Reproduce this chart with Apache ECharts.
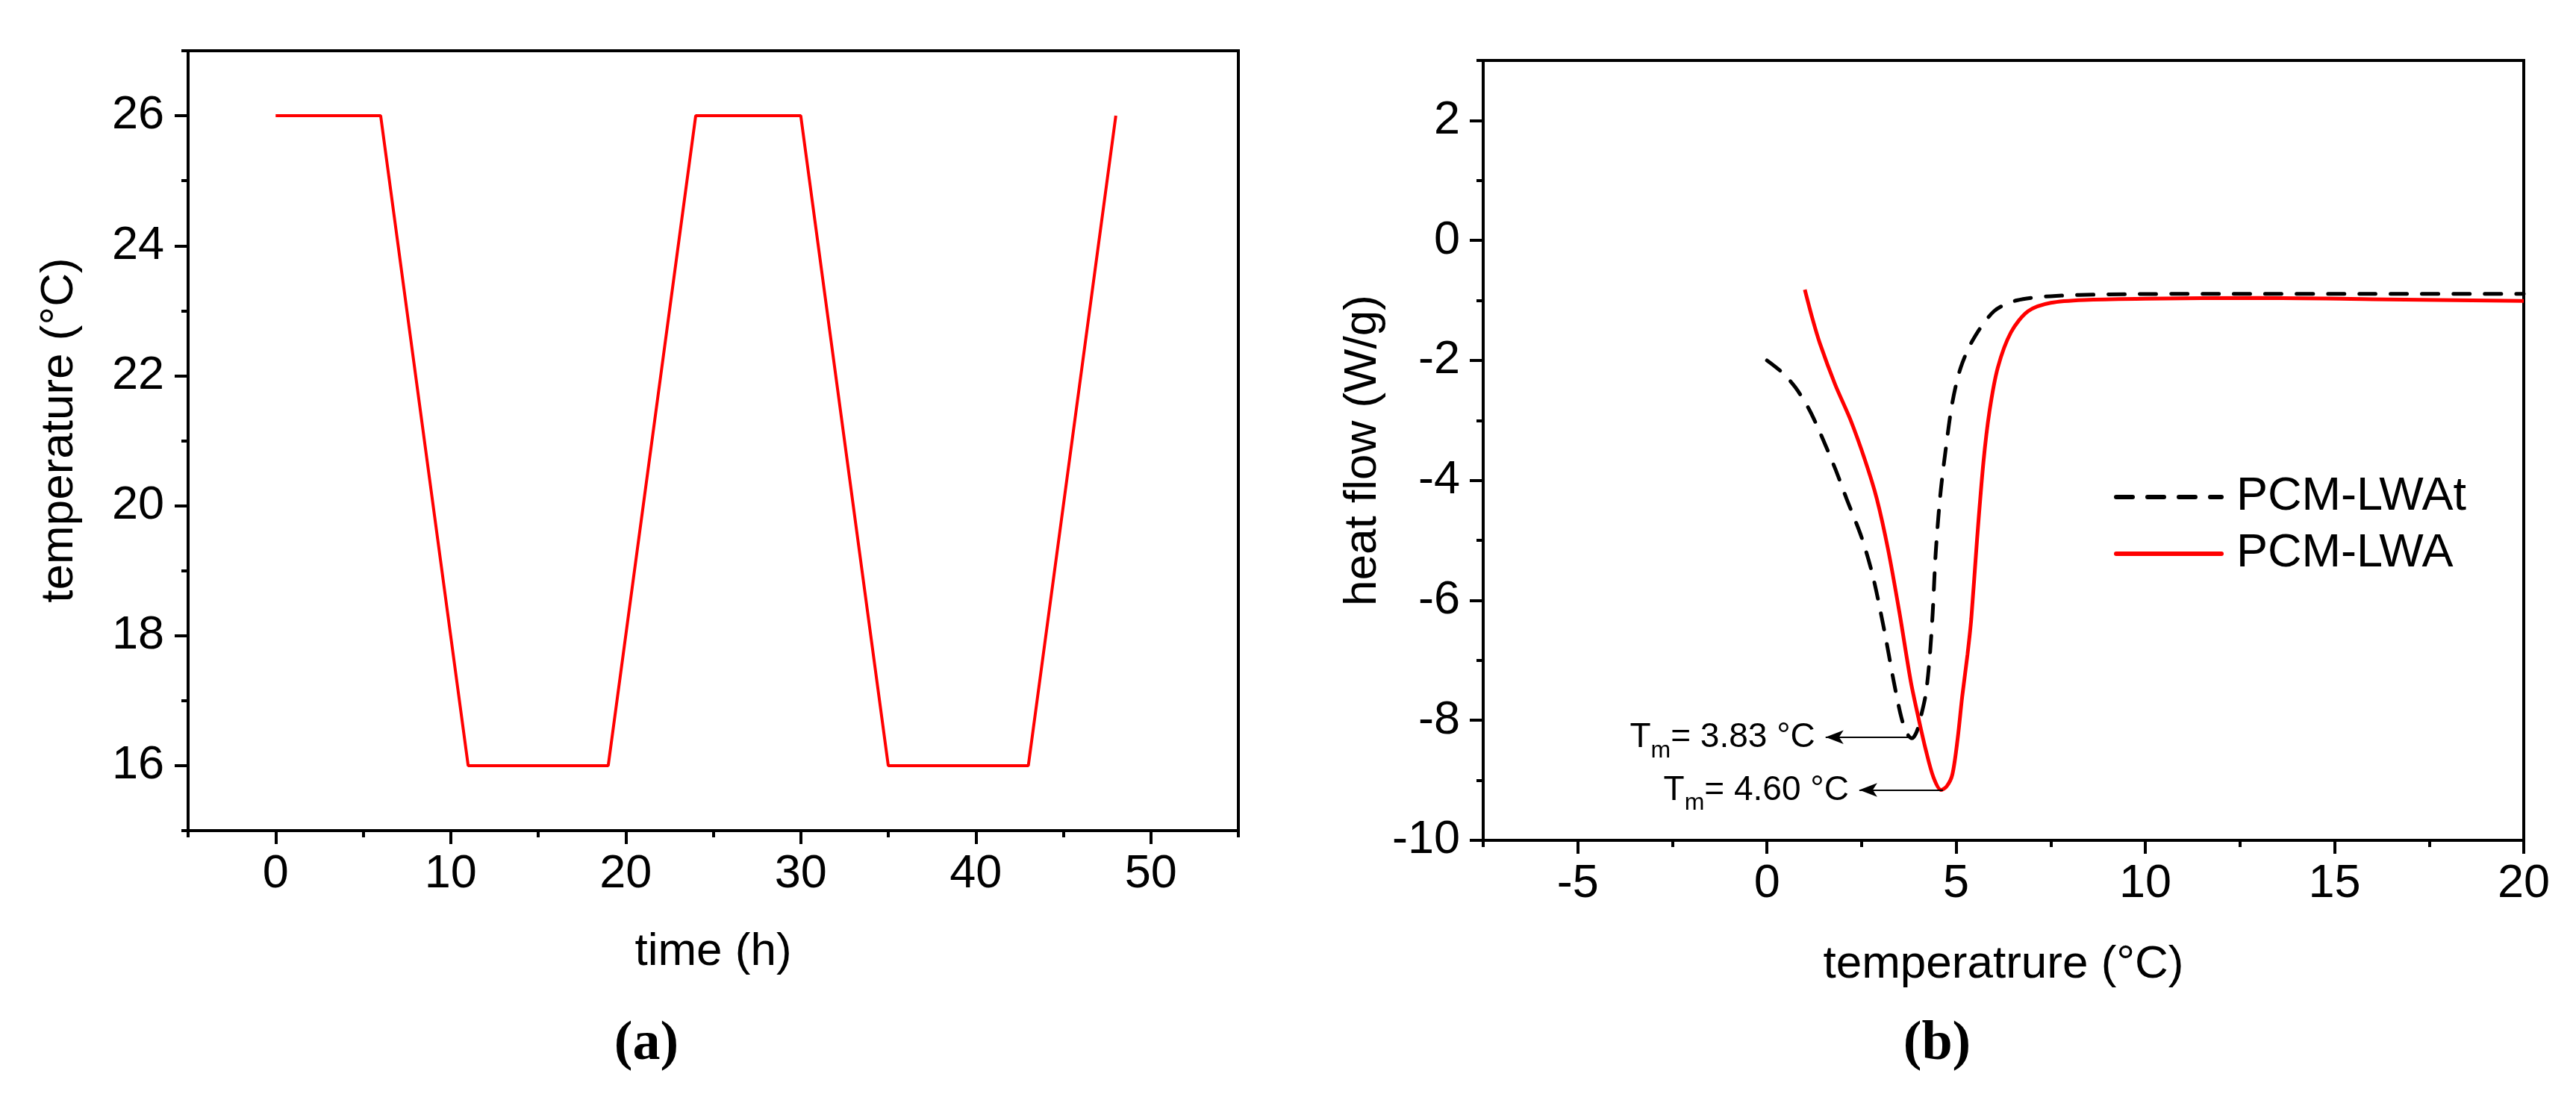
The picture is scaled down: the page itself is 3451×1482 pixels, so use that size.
<!DOCTYPE html>
<html>
<head>
<meta charset="utf-8">
<script src="https://cdn.jsdelivr.net/npm/echarts@6/dist/echarts.min.js"></script>
<style>html,body{margin:0;padding:0;background:#fff}#c{width:3451px;height:1482px}</style>
</head>
<body>
<div id="c"></div>
<script>
// ---- Panel (a): temperature programme ----
const timeH = [0, 6, 11, 19, 24, 30, 35, 43, 48];
const tempC = [26, 26, 16, 16, 26, 26, 16, 16, 26];

// ---- Panel (b): DSC heat flow ----
const lwatT = [0, 0.4, 0.75, 1.1, 1.4, 1.8, 2.1, 2.5, 2.8, 3.1, 3.35, 3.55, 3.7, 3.83, 3.95, 4.07, 4.2, 4.3, 4.38, 4.46, 4.58, 4.72, 4.9, 5.12, 5.45, 6.0, 6.6, 7.5, 9, 12, 16, 20];
const lwatQ = [-2.0, -2.2, -2.45, -2.8, -3.2, -3.8, -4.3, -4.95, -5.6, -6.5, -7.35, -7.95, -8.22, -8.3, -8.2, -7.93, -7.55, -6.95, -6.2, -5.2, -4.25, -3.5, -2.7, -2.12, -1.65, -1.18, -1.0, -0.93, -0.9, -0.89, -0.89, -0.89];
const lwaT = [1.0, 1.2, 1.4, 1.8, 2.2, 2.6, 2.9, 3.2, 3.5, 3.8, 4.0, 4.2, 4.4, 4.6, 4.75, 4.9, 5.04, 5.16, 5.3, 5.4, 5.55, 5.72, 5.88, 6.1, 6.45, 6.9, 7.5, 8.5, 10, 13, 16, 20];
const lwaQ = [-0.82, -1.3, -1.72, -2.4, -2.98, -3.68, -4.3, -5.15, -6.2, -7.35, -7.95, -8.5, -8.95, -9.16, -9.1, -8.9, -8.3, -7.6, -6.9, -6.3, -5.0, -3.7, -2.85, -2.12, -1.53, -1.18, -1.04, -0.99, -0.97, -0.96, -0.98, -1.01];

// annotations (melting peaks)
const annValue = ['3.83', '4.60'];
const annY = [-8.28, -9.16];
const annTail = [3.80, 4.65];
const annTip = [1.55, 2.44];

// ticks
const aXMajor = [0, 10, 20, 30, 40, 50];
const aXMinor = [-5, 5, 15, 25, 35, 45, 55];
const aYMajor = [16, 18, 20, 22, 24, 26];
const aYMinor = [15, 17, 19, 21, 23, 25, 27];
const bXMajor = [-5, 0, 5, 10, 15, 20];
const bXMinor = [-7.5, -2.5, 2.5, 7.5, 12.5, 17.5];
const bYMajor = [-10, -8, -6, -4, -2, 0, 2];
const bYMinor = [-9, -7, -5, -3, -1, 1, 3];

const FF = '"Liberation Sans", Arial, sans-serif';
const BLACK = '#000';
const RED = '#ff0000';

function zip(a, b) { return a.map((v, i) => [v, b[i]]); }

function majorAxis(o) {
  return Object.assign({
    type: 'value',
    axisLine: { show: true, onZero: false, lineStyle: { color: BLACK, width: 4 } },
    axisTick: { show: true, inside: false, length: 18, customValues: o.major, lineStyle: { color: BLACK, width: 4 } },
    axisLabel: { show: true, customValues: o.major, color: BLACK, fontSize: 63, fontFamily: FF, margin: o.margin },
    splitLine: { show: false },
    nameLocation: 'middle',
    nameTextStyle: Object.assign({ color: BLACK, fontSize: 62, fontFamily: FF }, o.nameExtra || {})
  }, o.extra);
}
function minorAxis(o) {
  return Object.assign({
    type: 'value',
    axisLine: { show: false, onZero: false },
    axisTick: { show: true, inside: false, length: 9, customValues: o.minor, lineStyle: { color: BLACK, width: 4 } },
    axisLabel: { show: false },
    splitLine: { show: false }
  }, o.extra);
}

const chart = echarts.init(document.getElementById('c'), null, { renderer: 'canvas' });

const option = {
  backgroundColor: '#fff',
  animation: false,
  grid: [
    { left: 252, top: 68, width: 1407, height: 1045, show: true, borderColor: BLACK, borderWidth: 4, backgroundColor: 'transparent', outerBoundsMode: 'none', containLabel: false },
    { left: 1987, top: 81, width: 1394, height: 1045, show: true, borderColor: BLACK, borderWidth: 4, backgroundColor: 'transparent', outerBoundsMode: 'none', containLabel: false }
  ],
  xAxis: [
    majorAxis({ major: aXMajor, margin: 27, extra: { gridIndex: 0, position: 'bottom', min: -5, max: 55, name: 'time (h)', nameGap: 132 } }),
    minorAxis({ minor: aXMinor, extra: { gridIndex: 0, position: 'bottom', min: -5, max: 55 } }),
    majorAxis({ major: bXMajor, margin: 27, extra: { gridIndex: 1, position: 'bottom', min: -7.5, max: 20, name: 'temperatrure (°C)', nameGap: 136 } }),
    minorAxis({ minor: bXMinor, extra: { gridIndex: 1, position: 'bottom', min: -7.5, max: 20 } })
  ],
  yAxis: [
    majorAxis({ major: aYMajor, margin: 32, nameExtra: { padding: [0, 0, 0, 28] }, extra: { gridIndex: 0, position: 'left', min: 15, max: 27, name: 'temperature (°C)', nameGap: 141 } }),
    minorAxis({ minor: aYMinor, extra: { gridIndex: 0, position: 'left', min: 15, max: 27 } }),
    majorAxis({ major: bYMajor, margin: 31, extra: { gridIndex: 1, position: 'left', min: -10, max: 3, name: 'heat flow (W/g)', nameGap: 130 } }),
    minorAxis({ minor: bYMinor, extra: { gridIndex: 1, position: 'left', min: -10, max: 3 } })
  ],
  legend: {
    show: true,
    orient: 'vertical',
    left: 2832,
    top: 631,
    padding: 0,
    itemWidth: 141,
    itemHeight: 20,
    itemGap: 6,
    selectedMode: false,
    data: ['PCM-LWAt', 'PCM-LWA'],
    itemStyle: { opacity: 0, borderWidth: 0 },
    lineStyle: { width: 6, cap: 'round' },
    textStyle: { color: BLACK, fontSize: 63, fontFamily: FF, lineHeight: 70, padding: [0, 0, 0, 15] }
  },
  series: [
    {
      name: 'programme', type: 'line', xAxisIndex: 0, yAxisIndex: 0,
      data: zip(timeH, tempC), symbol: 'none', silent: true,
      lineStyle: { color: RED, width: 4 }, itemStyle: { color: RED }
    },
    {
      name: 'PCM-LWAt', type: 'line', xAxisIndex: 2, yAxisIndex: 2,
      data: zip(lwatT, lwatQ), symbol: 'none', silent: true, smooth: 0.3,
      lineStyle: { color: BLACK, width: 5, type: [22, 20], cap: 'round' }, itemStyle: { color: BLACK },
      z: 3
    },
    {
      name: 'PCM-LWA', type: 'line', xAxisIndex: 2, yAxisIndex: 2,
      data: zip(lwaT, lwaQ), symbol: 'none', silent: true, smooth: 0.3,
      lineStyle: { color: RED, width: 5 }, itemStyle: { color: RED },
      z: 4,
      markLine: {
        silent: true, symbol: ['none', 'arrow'], symbolSize: [14, 24],
        lineStyle: { color: BLACK, width: 2, type: 'solid' },
        label: { show: false },
        data: annValue.map((v, i) => [
          { coord: [annTail[i], annY[i]] },
          { coord: [annTip[i], annY[i]] }
        ])
      }
    }
  ],
  graphic: []
};

chart.setOption(option);

// annotation texts, positioned through the axis scales
const cv = document.createElement('canvas').getContext('2d');
function tw(txt, size) { cv.font = size + 'px ' + FF; return cv.measureText(txt).width; }
const g = [];
annValue.forEach((v, i) => {
  const p = chart.convertToPixel({ xAxisIndex: 2, yAxisIndex: 2 }, [annTip[i], annY[i]]);
  const right = p[0] - 14;
  const mid = p[1] + 1;
  const main = '= ' + v + ' °C';
  const wMain = tw(main, 46);
  const wSub = tw('m', 32);
  g.push({ type: 'text', x: right, y: mid, silent: true, style: { text: main, fill: BLACK, fontSize: 46, fontFamily: FF, align: 'right', verticalAlign: 'middle' } });
  g.push({ type: 'text', x: right - wMain, y: mid + 17, silent: true, style: { text: 'm', fill: BLACK, fontSize: 32, fontFamily: FF, align: 'right', verticalAlign: 'middle' } });
  g.push({ type: 'text', x: right - wMain - wSub, y: mid, silent: true, style: { text: 'T', fill: BLACK, fontSize: 46, fontFamily: FF, align: 'right', verticalAlign: 'middle' } });
});
// panel captions
g.push({ type: 'text', x: 866, y: 1400, silent: true, style: { text: '(a)', fill: BLACK, fontSize: 74, fontWeight: 'bold', fontFamily: '"Liberation Serif", "DejaVu Serif", serif', align: 'center', verticalAlign: 'middle' } });
g.push({ type: 'text', x: 2595, y: 1400, silent: true, style: { text: '(b)', fill: BLACK, fontSize: 74, fontWeight: 'bold', fontFamily: '"Liberation Serif", "DejaVu Serif", serif', align: 'center', verticalAlign: 'middle' } });
chart.setOption({ graphic: g });
</script>
</body>
</html>
